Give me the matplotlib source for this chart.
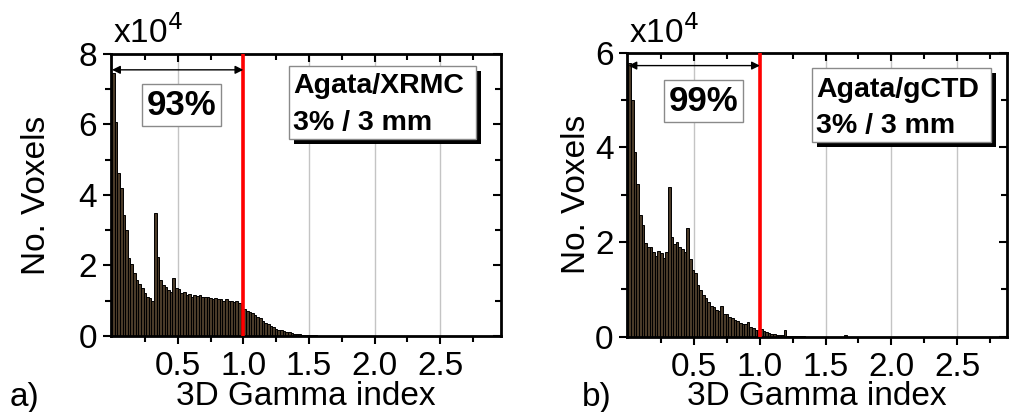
import numpy as np
import matplotlib
matplotlib.use("Agg")
import matplotlib.pyplot as plt
from matplotlib.patches import Rectangle
from matplotlib.transforms import offset_copy

plt.rcParams['font.family'] = ['Liberation Sans', 'DejaVu Sans']

BIN = 0.02  # histogram bin width (gamma index units)

# Panel a) Agata/XRMC, counts in units of 1e4 voxels, bins of 0.02 starting at 0
counts_a = [7.45, 6.08, 4.62, 4.2, 3.43, 3.0, 2.2, 2.05, 1.8, 1.59, 1.48, 1.36, 1.22, 1.12, 1.07, 1.0,
            3.48, 2.25, 1.6, 1.45, 1.38, 1.3, 1.25, 1.65, 1.35, 1.33, 1.21, 1.24, 1.15, 1.18,
            1.12, 1.15, 1.13, 1.16, 1.12, 1.12, 1.1, 1.08, 1.06, 1.07, 1.04, 1.06, 1.0, 1.04,
            0.99, 1.0, 0.95, 0.98, 0.93, 0.88,
            0.76, 0.72, 0.69, 0.64, 0.6, 0.55, 0.5, 0.42, 0.37, 0.33, 0.29, 0.25, 0.21, 0.18,
            0.16, 0.13, 0.11, 0.10, 0.08, 0.065, 0.055, 0.045, 0.038, 0.032, 0.027, 0.022,
            0.018, 0.015, 0.012, 0.01, 0.008, 0.006, 0.005, 0.004, 0.003, 0.002, 0.002, 0.001]

# Panel b) Agata/gCTD
counts_b = [5.79, 5.0, 3.91, 3.23, 2.57, 2.36, 1.98, 1.9, 1.9, 1.8, 1.7, 1.82, 1.77, 1.67, 1.8,
            3.17, 2.1, 1.95, 2.0, 1.9, 1.85, 1.8, 2.3, 1.64, 1.42, 1.34, 1.09, 0.99, 0.88, 0.81,
            0.74, 0.64, 0.63, 0.57, 0.55, 0.65, 0.49, 0.47, 0.42, 0.4, 0.35, 0.33, 0.28, 0.27,
            0.26, 0.3, 0.21, 0.18, 0.15, 0.14,
            0.16, 0.13, 0.1, 0.08, 0.06, 0.05, 0.04, 0.035, 0.03, 0.14, 0.02, 0.015, 0.01,
            0.008, 0.006, 0.005, 0.004, 0.003, 0.002, 0.002, 0.001, 0.001, 0.0, 0.0, 0.0,
            0.0, 0.0, 0.0, 0.0, 0.0, 0.0, 0.0, 0.03, 0.0]

xticks = [0.5, 1.0, 1.5, 2.0, 2.5]
xtick_labels = ['0.5', '1.0', '1.5', '2.0', '2.5']
yticks_a = [0, 2, 4, 6, 8]
yticks_b = [0, 2, 4, 6]
pass_a = '93%'
pass_b = '99%'
label_a = ['Agata/XRMC', '3% / 3 mm']
label_b = ['Agata/gCTD', '3% / 3 mm']
threshold = 1.0

fig = plt.figure(figsize=(10.12, 4.12), dpi=100)
ax1 = fig.add_axes([0.1097, 0.1845, 0.385, 0.6845])
ax2 = fig.add_axes([0.620, 0.1828, 0.375, 0.689])

FS = 24


def draw(ax, counts, yticks, ymax, xmax, pct, pct_xy, arrow_y, lab, box, txt_x, base_y,
         ylab_x, xlab_y, panel, panel_x, sup_y):
    counts = np.asarray(counts)
    left = np.arange(len(counts)) * BIN
    ax.grid(axis='x', color='#c4c4c4', lw=1.0, zorder=0)
    ax.set_axisbelow(True)
    ax.bar(left, counts, width=BIN, align='edge', color='#4a3b29', edgecolor='#000000',
           linewidth=0.7, zorder=2)
    ax.axvline(threshold, color='#ff0000', lw=2.6, zorder=4)
    ax.set_xlim(-0.008, xmax)
    ax.set_ylim(0, ymax)
    ax.set_xticks(xticks)
    ax.set_xticklabels(xtick_labels)
    ax.set_xticks(np.arange(0.25, xmax, 0.25), minor=True)
    ax.set_yticks(yticks)
    ax.set_yticks(np.arange(1, ymax, 1), minor=True)
    ax.tick_params(axis='both', which='both', labelsize=FS, width=1.5)
    ax.tick_params(axis='both', which='major', length=6)
    ax.tick_params(axis='both', which='minor', length=4)
    ax.tick_params(top=True, right=True, which='both')
    ax.tick_params(axis='x', which='both', direction='out', pad=5)
    ax.tick_params(axis='y', which='both', direction='out', pad=4)
    for s in ax.spines.values():
        s.set_linewidth(2.0)
    for t in ax.xaxis.get_ticklines(minor=False)[1::2] + ax.xaxis.get_ticklines(minor=True)[1::2]:
        t.set_marker(3)
    for t in ax.yaxis.get_ticklines(minor=False)[1::2] + ax.yaxis.get_ticklines(minor=True)[1::2]:
        t.set_marker(0)
    ax.set_xlabel('3D Gamma index', fontsize=FS)
    ax.xaxis.set_label_coords(0.5, xlab_y)
    ax.set_ylabel('No. Voxels', fontsize=FS)
    ax.yaxis.set_label_coords(ylab_x, 0.5)
    ax.text(0.004, sup_y, r'x10$^{4}$', transform=ax.transAxes, fontsize=FS,
            ha='left', va='baseline')
    ax.annotate('', xy=(threshold, arrow_y), xytext=(0.0, arrow_y),
                arrowprops=dict(arrowstyle='<|-|>', color='black', lw=1.0,
                                mutation_scale=12, shrinkA=0, shrinkB=0), zorder=5)
    ax.text(pct_xy[0], pct_xy[1], pct, fontsize=25, fontweight='bold', ha='center',
            va='center', zorder=6,
            bbox=dict(boxstyle='square,pad=0.13', fc='white', ec='#8a8a8a', lw=1.0))
    # label box with black drop shadow
    x0, x1, y0, y1 = box
    sh = offset_copy(ax.transAxes, fig=fig, x=5, y=-5, units='dots')
    ax.add_patch(Rectangle((x0, y0), x1 - x0, y1 - y0, transform=sh, fc='black',
                           ec='none', zorder=6, clip_on=False))
    ax.add_patch(Rectangle((x0, y0), x1 - x0, y1 - y0, transform=ax.transAxes, fc='white',
                           ec='#8a8a8a', lw=1.0, zorder=7, clip_on=False))
    for line, by in zip(lab, base_y):
        ax.text(txt_x, by, line, transform=ax.transAxes, fontsize=20.5, fontweight='bold',
                ha='left', va='baseline', zorder=8)
    fig.text(panel_x, 0.036, panel, fontsize=FS, ha='left', va='center')


draw(ax1, counts_a, yticks_a, 8, 2.96, pass_a, (0.53, 6.55), 7.55, label_a,
     (0.457, 0.937, 0.699, 0.957), 0.467, (0.862, 0.730), -0.151, -0.158, 'a)', 0.010, 1.039)
draw(ax2, counts_b, yticks_b, 6, 2.88, pass_b, (0.57, 4.98), 5.73, label_b,
     (0.486, 0.958, 0.686, 0.946), 0.497, (0.845, 0.718), -0.094, -0.155, 'b)', 0.575, 1.034)

fig.savefig('out.png', dpi=100)
